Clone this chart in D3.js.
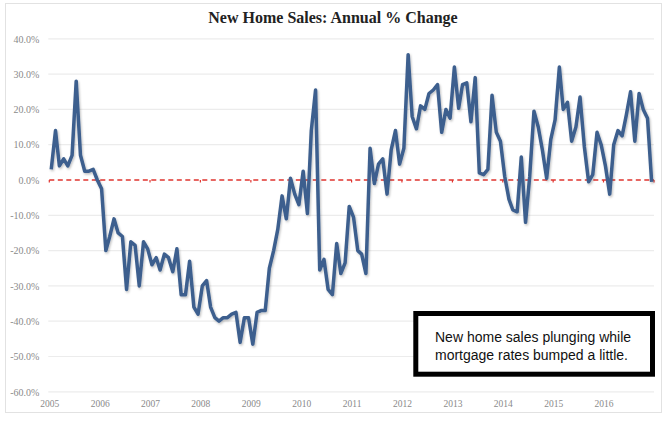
<!DOCTYPE html>
<html lang="en">
<head>
    <meta charset="UTF-8">
    <title>New Home Sales: Annual % Change</title>
    <script src="https://d3js.org/d3.v7.min.js" charset="utf-8"></script>
    <style>
        body { margin: 0; background: #fff; }
        .axis text { font-family: "Liberation Serif", "DejaVu Serif", serif; fill: #8a8a8a; }
        .axis .domain { display: none; }
    </style>
</head>
<body>
    <div id="vis"></div>

    <script>

        // monthly readings, Jan 2005 .. Dec 2016 (annual % change)
        var startYear = 2005;
        var values = [
            3, 14, 4, 6, 4, 7, 28, 7, 2.5, 2.5, 3, 0,                          // 2005
            -2.5, -20, -16, -11, -15, -16, -31, -17.5, -18.5, -30, -17.5, -19.5, // 2006
            -24, -22, -25.5, -21, -22, -26, -19.5, -32.5, -32.5, -23, -36, -38,  // 2007
            -30, -28.5, -36, -39, -40, -39, -39, -38, -37.5, -46, -39, -39,      // 2008
            -46.5, -37.5, -37, -37, -25, -20, -14, -4.5, -11, 0.5, -4, -7,       // 2009
            2.5, -9.5, 14, 25.5, -25.5, -22.5, -31, -32.5, -18, -26.5, -23.5, -7.5, // 2010
            -10.5, -20, -21, -26.5, 9, -1, 4.5, 6, -4, 8.5, 14, 4.5,             // 2011
            9, 35.5, 18, 14.5, 21, 20, 24.5, 25.5, 27, 13.5, 20, 17.5,           // 2012
            32, 20.3, 27, 27.5, 16.5, 29, 2, 1.5, 3, 24, 13.5, 11,               // 2013
            1, -5.5, -8.5, -9, 6.5, -12, 1, 19.5, 15, 8.5, 0.5, 11.5,            // 2014
            17, 32, 20, 22, 11, 15, 23.5, 9.5, -0.5, 1.5, 13.5, 10,              // 2015
            4, -4, 10, 14, 12.5, 18.5, 25, 11, 24.5, 20, 17.5, -0.5              // 2016
        ];
        var yearTicks = [2005, 2006, 2007, 2008, 2009, 2010, 2011, 2012, 2013, 2014, 2015, 2016];
        var yTicks = [-60, -50, -40, -30, -20, -10, 0, 10, 20, 30, 40];

        var title = "New Home Sales: Annual % Change";
        var noteLines = ["New home sales plunging while", "mortgage rates bumped a little."];

        var width = 667;
        var height = 421;

        var margin = {
          top: 38.8,
          left: 49.3,
          right: 13,
          bottom: 29.2
        };

        var data = values.map(function(v, i) {
            return { date: new Date(startYear, i, 15), value: v };
        });

        var svg = d3.select("#vis")
            .append("svg")
              .attr('width', width)
              .attr('height', height);

        // drop shadow under the series line
        var filter = svg.append('defs').append('filter')
            .attr('id', 'shadow')
            .attr('x', '-5%').attr('y', '-5%')
            .attr('width', '110%').attr('height', '110%');
        filter.append('feDropShadow')
            .attr('dx', 1).attr('dy', 1.5)
            .attr('stdDeviation', 1.2)
            .attr('flood-color', '#000')
            .attr('flood-opacity', 0.25);

        // outer frame
        svg.append('rect')
            .attr('x', 5.5).attr('y', 3.5)
            .attr('width', 656).attr('height', 409)
            .attr('fill', 'none')
            .attr('stroke', '#e2e2e2');

        svg.append('text')
            .attr('x', 333)
            .attr('y', 23)
            .attr('text-anchor', 'middle')
            .style('font-family', '"Liberation Serif", "DejaVu Serif", serif')
            .style('font-weight', 'bold')
            .style('font-size', '16px')
            .style('fill', '#222')
            .text(title);

        var g = svg.append('g')
            .attr('transform', 'translate(' + margin.left + ',' + margin.top + ')');

        var w = width - margin.left - margin.right;
        var h = height - margin.top - margin.bottom;

        var x_scale = d3.scaleTime()
            .domain([new Date(startYear, 0, 1), new Date(2017, 0, 1)])
            .range([0, w]);

        var y_scale = d3.scaleLinear()
            .domain([-60, 40])
            .range([h, 0]);

        // gridlines
        g.append('g')
            .attr('class', 'grid')
            .selectAll('line')
            .data(yTicks.filter(function(d) { return d !== 0; }))
            .enter()
            .append('line')
              .attr('x1', -1)
              .attr('x2', w)
              .attr('y1', function(d) { return y_scale(d); })
              .attr('y2', function(d) { return y_scale(d); })
              .attr('stroke', '#ececec')
              .attr('stroke-width', 1.2);

        var y_axis = d3.axisLeft(y_scale)
            .tickValues(yTicks)
            .tickSize(0)
            .tickPadding(10)
            .tickFormat(function(d) { return d.toFixed(1) + '%'; });

        g.append('g')
            .attr('class', 'y axis')
            .call(y_axis)
            .selectAll('text')
              .style('font-size', '10px');

        var x_axis = d3.axisBottom(x_scale)
            .tickValues(yearTicks.map(function(y) { return new Date(y, 0, 1); }))
            .tickSize(0)
            .tickPadding(8)
            .tickFormat(d3.timeFormat('%Y'));

        g.append('g')
            .attr('class', 'x axis')
            .attr('transform', 'translate(0,' + h + ')')
            .call(x_axis)
            .selectAll('text')
              .style('font-size', '9.5px');

        // zero line, dashed red with small year marks
        g.append('line')
            .attr('x1', 0).attr('x2', w)
            .attr('y1', y_scale(0)).attr('y2', y_scale(0))
            .attr('stroke', '#e0342f')
            .attr('stroke-width', 1.5)
            .attr('stroke-dasharray', '5,3.5');

        g.selectAll('.zero-tick')
            .data(yearTicks.concat([2017]))
            .enter()
            .append('line')
              .attr('class', 'zero-tick')
              .attr('x1', function(d) { return x_scale(new Date(d, 0, 1)); })
              .attr('x2', function(d) { return x_scale(new Date(d, 0, 1)); })
              .attr('y1', y_scale(0))
              .attr('y2', y_scale(0) + 2.5)
              .attr('stroke', '#e0342f')
              .attr('stroke-width', 1.2);

        var line = d3.line()
            .x(function(d) { return x_scale(d.date); })
            .y(function(d) { return y_scale(d.value); });

        g.append('path')
            .datum(data)
            .attr('d', line)
            .attr('fill', 'none')
            .attr('stroke', '#3d5f8e')
            .attr('stroke-width', 3.5)
            .attr('stroke-linejoin', 'round')
            .attr('filter', 'url(#shadow)');

        // annotation box
        svg.append('rect')
            .attr('x', 415.8).attr('y', 313.5)
            .attr('width', 236.7).attr('height', 60.7)
            .attr('fill', '#fff')
            .attr('stroke', '#000')
            .attr('stroke-width', 5);

        svg.append('g')
            .selectAll('text')
            .data(noteLines)
            .enter()
            .append('text')
              .attr('x', 435)
              .attr('y', function(d, i) { return 341.5 + i * 18.5; })
              .style('font-family', '"Liberation Sans", Arial, sans-serif')
              .style('font-size', '14px')
              .style('fill', '#111')
              .text(function(d) { return d; });

    </script>
</body>
</html>
